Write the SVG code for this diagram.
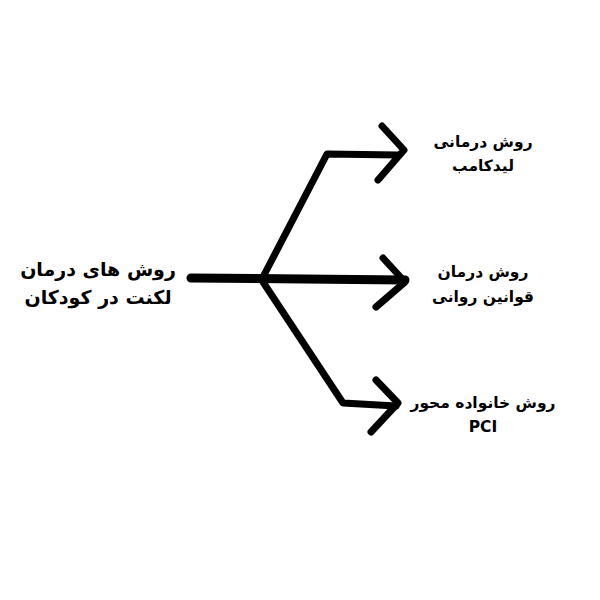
<svg xmlns="http://www.w3.org/2000/svg" width="600" height="600" viewBox="0 0 600 600">
<style>
.c{fill:none;stroke:#000;stroke-linecap:round;stroke-linejoin:round}
.t{font-family:"DejaVu Sans","Noto Sans",sans-serif;font-weight:bold;fill:#000;text-anchor:middle}
.big{font-size:19px}
.sm{font-size:15.5px}
</style>
<rect width="600" height="600" fill="#fff"/>
<g id="connectors">
<path class="c" stroke-width="9" d="M191 278 L405 280"/>
<path class="c" stroke-width="7" d="M263 277 L327 154 L398 155"/>
<path class="c" stroke-width="7" d="M263 282 L343 403 L396 406"/>
<path class="c" stroke-width="7" d="M382 126 L404 150 L378 180"/>
<path class="c" stroke-width="7" d="M383 258 L405 282 L376 307"/>
<path class="c" stroke-width="7" d="M376 380 L398 403 L371 432"/>
</g>
<g id="root">
<text class="t big" x="98" y="276" direction="rtl">روش های درمان</text>
<text class="t big" x="98" y="304" direction="rtl">لکنت در کودکان</text>
</g>
<g id="n1">
<text class="t sm" x="483" y="147" direction="rtl">روش درمانی</text>
<text class="t sm" x="483" y="171" direction="rtl">لیدکامب</text>
</g>
<g id="n2">
<text class="t sm" x="483" y="277" direction="rtl">روش درمان</text>
<text class="t sm" x="483" y="302" direction="rtl">قوانین روانی</text>
</g>
<g id="n3">
<text class="t sm" x="483" y="408" direction="rtl">روش خانواده محور</text>
<text class="t sm" x="483" y="432">PCI</text>
</g>
</svg>
